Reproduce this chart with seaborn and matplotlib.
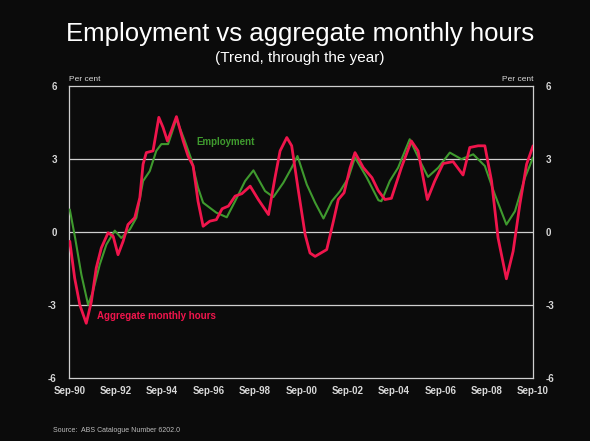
import numpy as np
import pandas as pd
import matplotlib
matplotlib.use('Agg')
import matplotlib.pyplot as plt
import seaborn as sns

# trend, through the year (per cent); x in decimal years
emp_year = [1990.77, 1991.0, 1991.27, 1991.56, 1991.77, 1992.06, 1992.35, 1992.71,
            1992.99, 1993.36, 1993.64, 1993.93, 1994.22, 1994.5, 1994.72, 1995.01,
            1995.37, 1995.73, 1996.01, 1996.3, 1996.52, 1996.81, 1997.09, 1997.54,
            1997.9, 1998.33, 1998.69, 1999.19, 1999.55, 1999.98, 2000.34, 2000.59,
            2000.99, 2001.35, 2001.71, 2002.07, 2002.43, 2002.79, 2003.07, 2003.58,
            2004.08, 2004.21, 2004.57, 2004.93, 2005.43, 2005.87, 2006.22, 2006.66,
            2007.16, 2007.66, 2008.17, 2008.67, 2009.1, 2009.6, 2009.97, 2010.4,
            2010.75]
emp_val = [0.92, -0.25, -1.76, -3.0, -2.45, -1.35, -0.52, 0.05,
           -0.25, 0.1, 0.58, 2.09, 2.5, 3.33, 3.61, 3.61,
           4.64, 3.74, 2.99, 1.82, 1.2, 0.99, 0.79, 0.6,
           1.26, 2.09, 2.53, 1.68, 1.43, 2.02, 2.64, 3.12,
           1.95, 1.2, 0.55, 1.26, 1.68, 2.23, 3.06, 2.23,
           1.3, 1.26, 2.09, 2.64, 3.81, 2.92, 2.26, 2.64,
           3.26, 2.99, 3.19, 2.71, 1.54, 0.3, 0.85, 2.23,
           3.06]

hrs_year = [1990.77, 1990.98, 1991.2, 1991.48, 1991.7, 1991.91, 1992.13, 1992.42,
            1992.64, 1992.85, 1993.07, 1993.28, 1993.57, 1993.79, 1993.93, 1994.07,
            1994.36, 1994.61, 1994.79, 1994.98, 1995.15, 1995.37, 1995.66, 1995.87,
            1996.09, 1996.3, 1996.52, 1996.81, 1997.09, 1997.34, 1997.61, 1997.9,
            1998.19, 1998.55, 1998.9, 1999.34, 1999.62, 1999.84, 2000.13, 2000.34,
            2000.63, 2000.92, 2001.13, 2001.35, 2001.85, 2002.14, 2002.35, 2002.6,
            2002.86, 2003.07, 2003.43, 2003.8, 2004.07, 2004.36, 2004.64, 2005.07,
            2005.5, 2005.79, 2006.19, 2006.51, 2006.87, 2007.3, 2007.73, 2008.02,
            2008.38, 2008.67, 2008.96, 2009.24, 2009.6, 2009.89, 2010.18, 2010.47,
            2010.75]
hrs_val = [-0.39, -1.9, -3.0, -3.76, -2.87, -1.49, -0.66, -0.04,
           -0.18, -0.94, -0.39, 0.3, 0.58, 1.4, 2.78, 3.26,
           3.33, 4.71, 4.3, 3.74, 4.16, 4.74, 3.74, 3.12,
           2.71, 1.26, 0.23, 0.44, 0.5, 0.95, 1.06, 1.47,
           1.57, 1.88, 1.33, 0.71, 2.23, 3.33, 3.88, 3.54,
           1.68, -0.11, -0.87, -1.01, -0.73, 0.44, 1.33, 1.61,
           2.64, 3.26, 2.64, 2.23, 1.7, 1.33, 1.38, 2.64,
           3.74, 3.33, 1.33, 2.09, 2.81, 2.89, 2.34, 3.47,
           3.54, 3.54, 2.09, -0.25, -1.93, -0.8, 1.13, 2.78,
           3.54]

tick_years = [1990.75 + 2 * i for i in range(11)]
tick_labels = ['Sep-90', 'Sep-92', 'Sep-94', 'Sep-96', 'Sep-98', 'Sep-00',
               'Sep-02', 'Sep-04', 'Sep-06', 'Sep-08', 'Sep-10']
y_ticks = [-6, -3, 0, 3, 6]

emp = pd.DataFrame({'year': emp_year, 'pct': emp_val})
hrs = pd.DataFrame({'year': hrs_year, 'pct': hrs_val})

sns.set_theme(style='dark')
plt.rcParams['font.family'] = ['Liberation Sans', 'DejaVu Sans']
plt.rcParams['axes.unicode_minus'] = False

bg = '#0b0b0b'
fg = '#d8d8d8'
green = '#3f9a2e'
red = '#f0154c'

fig = plt.figure(figsize=(5.9, 4.41), dpi=100, facecolor=bg)
ax = fig.add_axes([0.1175, 0.1435, 0.786, 0.6615])
ax.set_facecolor(bg)

for y in [3, 0, -3]:
    ax.axhline(y, color='#cfcfcf', lw=0.9, zorder=1)

sns.lineplot(data=emp, x='year', y='pct', ax=ax, color=green, lw=1.5, zorder=3,
             solid_joinstyle='round')
sns.lineplot(data=hrs, x='year', y='pct', ax=ax, color=red, lw=2.0, zorder=4,
             solid_joinstyle='round')

ax.set_xlim(tick_years[0], tick_years[-1])
ax.set_ylim(-6, 6)
ax.set_xticks(tick_years)
ax.set_xticklabels(tick_labels)
ax.set_yticks(y_ticks)
ax.set_xlabel('')
ax.set_ylabel('')
ax.grid(False)
ax.tick_params(axis='both', colors=fg, labelsize=7, length=0, pad=6)
ax.tick_params(axis='y', labelright=True, pad=9)
for lab in ax.get_xticklabels() + ax.get_yticklabels():
    lab.set_fontweight('bold')
for side in ['left', 'right', 'top', 'bottom']:
    ax.spines[side].set_visible(True)
    ax.spines[side].set_color('#cfcfcf')
    ax.spines[side].set_linewidth(0.9)

ax.text(0.0, 1.01, 'Per cent', transform=ax.transAxes, color=fg, fontsize=6,
        ha='left', va='bottom')
ax.text(1.0, 1.01, 'Per cent', transform=ax.transAxes, color=fg, fontsize=6,
        ha='right', va='bottom')

ax.text(1996.25, 3.7, 'Employment', color=green, fontsize=7, fontweight='bold',
        ha='left', va='center')
ax.text(1991.93, -3.46, 'Aggregate monthly hours', color=red, fontsize=7,
        fontweight='bold', ha='left', va='center')

fig.text(0.508, 0.922, 'Employment vs aggregate monthly hours', color='white',
         fontsize=18.5, ha='center', va='center')
fig.text(0.508, 0.868, '(Trend, through the year)', color='white',
         fontsize=11, ha='center', va='center')
fig.text(0.09, 0.024, 'Source:  ABS Catalogue Number 6202.0', color='#bdbdbd',
         fontsize=5, ha='left', va='center')

fig.savefig('out.png', dpi=100, facecolor=bg)
